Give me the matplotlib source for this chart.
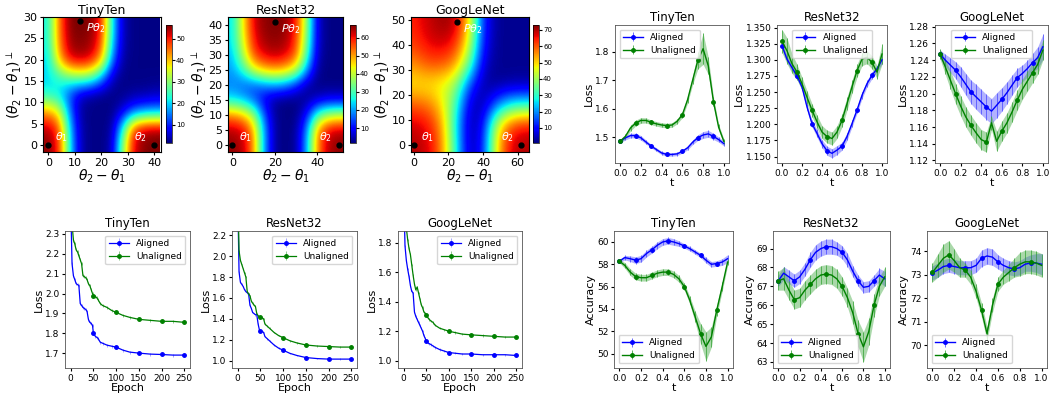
import matplotlib
matplotlib.use("Agg")
import matplotlib.pyplot as plt
import numpy as np

NETS = ["TinyTen", "ResNet32", "GoogLeNet"]

# ---- heatmaps: accuracy over the plane, coarse grid
# rows = (theta2-theta1)^perp, cols = theta2-theta1
TT_X = [0, 4, 8, 12, 16, 20, 24, 28, 32, 36, 40]
TT_Y = [0, 4, 8, 12, 16, 20, 24, 28]
TT_GRID = [
    [56, 50, 22, 4, 2, 2, 4, 30, 52, 56, 57],
    [54, 48, 20, 4, 2, 2, 3, 22, 48, 54, 55],
    [42, 36, 15, 3, 2, 2, 2, 6, 12, 15, 16],
    [22, 20, 12, 5, 3, 2, 2, 2, 3, 3, 4],
    [20, 24, 28, 30, 28, 18, 5, 2, 2, 2, 2],
    [20, 40, 52, 54, 52, 42, 15, 3, 2, 2, 2],
    [22, 44, 55, 56, 55, 48, 20, 4, 2, 2, 2],
    [22, 45, 56, 57, 56, 50, 22, 4, 2, 2, 2],
]
RN_X = [0, 5, 10, 15, 20, 25, 30, 35, 40, 45, 50]
RN_Y = [0, 5, 10, 15, 20, 25, 30, 35, 40]
RN_GRID = [
    [66, 64, 52, 20, 3, 2, 3, 20, 52, 64, 66],
    [64, 62, 50, 20, 3, 2, 3, 18, 50, 62, 64],
    [52, 48, 38, 15, 3, 2, 2, 10, 30, 38, 40],
    [25, 22, 16, 8, 3, 2, 2, 3, 6, 8, 8],
    [18, 16, 15, 18, 20, 18, 12, 4, 2, 2, 2],
    [20, 28, 42, 48, 50, 48, 40, 20, 3, 2, 2],
    [22, 38, 56, 62, 64, 62, 55, 30, 5, 2, 2],
    [24, 42, 60, 65, 66, 65, 58, 34, 6, 2, 2],
    [24, 44, 62, 66, 67, 66, 60, 36, 6, 2, 2],
]
GN_X = [0, 8, 16, 24, 32, 40, 48, 56, 64]
GN_Y = [0, 8, 16, 24, 32, 40, 48]
GN_GRID = [
    [70, 68, 58, 30, 3, 10, 50, 68, 70],
    [68, 66, 56, 28, 3, 8, 45, 62, 66],
    [60, 58, 50, 32, 6, 3, 18, 28, 30],
    [48, 48, 46, 40, 15, 3, 2, 3, 3],
    [55, 60, 60, 55, 35, 6, 2, 2, 2],
    [62, 66, 68, 64, 45, 10, 2, 2, 2],
    [64, 68, 71, 70, 50, 12, 2, 2, 2],
]
# theta1, theta2, P theta2 positions
TT_PTS = [(0, 0), (40, 0), (12, 29)]
RN_PTS = [(0, 0), (50, 0), (20, 41)]
GN_PTS = [(0, 0), (62, 0), (25, 49)]
PT_LABELS = [r"$\theta_1$", r"$\theta_2$", r"$P\theta_2$"]

# ---- training loss vs epoch
EPOCHS = [0, 3, 6, 9, 12, 15, 18, 21, 24, 27, 30, 33, 36, 39, 42, 45, 48, 50,
          54, 57, 60, 65, 70, 80, 90, 100, 115, 130, 150, 175, 200, 225, 250]
TT_TRAIN_AL = [2.45, 2.15, 2.09, 2.07, 2.05, 2.045, 2.04, 1.95, 1.94, 1.93, 1.925, 1.92, 1.91,
               1.87, 1.855, 1.85, 1.84, 1.80, 1.785, 1.78, 1.775, 1.755, 1.75, 1.74, 1.735,
               1.73, 1.715, 1.705, 1.70, 1.695, 1.693, 1.69, 1.69]
TT_TRAIN_UN = [2.50, 2.35, 2.27, 2.25, 2.22, 2.21, 2.19, 2.17, 2.15, 2.09, 2.085, 2.08, 2.07,
               2.05, 2.04, 2.02, 2.00, 1.99, 1.985, 1.98, 1.97, 1.95, 1.94, 1.93, 1.915,
               1.905, 1.89, 1.88, 1.87, 1.865, 1.86, 1.86, 1.855]
RN_TRAIN_AL = [2.6, 1.85, 1.75, 1.73, 1.71, 1.68, 1.66, 1.65, 1.64, 1.53, 1.50, 1.46, 1.45,
               1.44, 1.44, 1.35, 1.29, 1.28, 1.28, 1.27, 1.23, 1.21, 1.19, 1.15, 1.12,
               1.10, 1.07, 1.05, 1.03, 1.02, 1.015, 1.015, 1.015]
RN_TRAIN_UN = [2.7, 2.05, 1.96, 1.92, 1.88, 1.84, 1.80, 1.66, 1.64, 1.62, 1.57, 1.55, 1.53,
               1.52, 1.45, 1.43, 1.42, 1.42, 1.41, 1.40, 1.35, 1.33, 1.31, 1.27, 1.24,
               1.22, 1.19, 1.17, 1.15, 1.14, 1.135, 1.13, 1.13]
GN_TRAIN_AL = [2.2, 1.78, 1.68, 1.62, 1.57, 1.51, 1.47, 1.46, 1.33, 1.30, 1.28, 1.26, 1.24,
               1.22, 1.20, 1.17, 1.15, 1.13, 1.12, 1.115, 1.11, 1.10, 1.09, 1.075, 1.065,
               1.055, 1.05, 1.045, 1.045, 1.04, 1.04, 1.04, 1.035]
GN_TRAIN_UN = [2.4, 2.0, 1.90, 1.82, 1.76, 1.72, 1.65, 1.58, 1.52, 1.48, 1.50, 1.46, 1.42,
               1.38, 1.36, 1.33, 1.32, 1.31, 1.29, 1.28, 1.27, 1.26, 1.24, 1.22, 1.21,
               1.20, 1.19, 1.18, 1.175, 1.17, 1.165, 1.16, 1.16]
TRAIN_ERR = 0.008

# ---- loss / accuracy along the path t
T = [0.0, 0.05, 0.1, 0.15, 0.2, 0.25, 0.3, 0.35, 0.4, 0.45, 0.5,
     0.55, 0.6, 0.65, 0.7, 0.75, 0.8, 0.85, 0.9, 0.95, 1.0]

TT_LOSS_AL = [1.486, 1.498, 1.506, 1.506, 1.498, 1.483, 1.469, 1.457, 1.445, 1.440, 1.440,
              1.442, 1.451, 1.463, 1.483, 1.499, 1.508, 1.512, 1.503, 1.492, 1.478]
TT_LOSS_AL_ERR = [0.006, 0.007, 0.008, 0.008, 0.008, 0.007, 0.006, 0.006, 0.006, 0.006, 0.006,
                  0.006, 0.006, 0.007, 0.008, 0.010, 0.012, 0.012, 0.011, 0.009, 0.008]
TT_LOSS_UN = [1.486, 1.503, 1.533, 1.550, 1.559, 1.559, 1.552, 1.547, 1.543, 1.541, 1.543,
              1.556, 1.579, 1.631, 1.701, 1.770, 1.810, 1.750, 1.625, 1.535, 1.486]
TT_LOSS_UN_ERR = [0.006, 0.008, 0.010, 0.010, 0.010, 0.009, 0.008, 0.008, 0.008, 0.008, 0.008,
                  0.009, 0.010, 0.012, 0.015, 0.030, 0.055, 0.030, 0.015, 0.010, 0.008]

RN_LOSS_AL = [1.322, 1.301, 1.288, 1.275, 1.258, 1.227, 1.201, 1.186, 1.170, 1.159, 1.155,
              1.160, 1.166, 1.181, 1.201, 1.222, 1.245, 1.263, 1.276, 1.286, 1.300]
RN_LOSS_AL_ERR = [0.005, 0.005, 0.005, 0.005, 0.005, 0.005, 0.005, 0.006, 0.006, 0.007, 0.007,
                  0.007, 0.006, 0.006, 0.005, 0.005, 0.005, 0.005, 0.005, 0.005, 0.006]
RN_LOSS_UN = [1.329, 1.314, 1.294, 1.281, 1.263, 1.242, 1.222, 1.204, 1.188, 1.181, 1.178,
              1.188, 1.206, 1.232, 1.258, 1.283, 1.301, 1.304, 1.296, 1.281, 1.309]
RN_LOSS_UN_ERR = [0.018, 0.020, 0.015, 0.012, 0.010, 0.010, 0.010, 0.010, 0.010, 0.010, 0.010,
                  0.010, 0.010, 0.010, 0.010, 0.010, 0.010, 0.010, 0.010, 0.010, 0.016]

GN_LOSS_AL = [1.247, 1.240, 1.234, 1.228, 1.220, 1.211, 1.202, 1.196, 1.190, 1.184, 1.179,
              1.186, 1.193, 1.201, 1.210, 1.219, 1.224, 1.230, 1.237, 1.243, 1.256]
GN_LOSS_AL_ERR = [0.005, 0.007, 0.009, 0.010, 0.012, 0.013, 0.014, 0.015, 0.015, 0.015, 0.015,
                  0.015, 0.014, 0.013, 0.012, 0.011, 0.010, 0.010, 0.011, 0.013, 0.015]
GN_LOSS_UN = [1.247, 1.232, 1.216, 1.200, 1.185, 1.172, 1.162, 1.153, 1.145, 1.142, 1.165,
              1.143, 1.155, 1.165, 1.178, 1.192, 1.205, 1.215, 1.225, 1.235, 1.252]
GN_LOSS_UN_ERR = [0.006, 0.009, 0.011, 0.012, 0.012, 0.012, 0.012, 0.012, 0.012, 0.012, 0.008,
                  0.012, 0.012, 0.012, 0.012, 0.012, 0.012, 0.012, 0.012, 0.012, 0.012]

TT_ACC_AL = [58.28, 58.6, 58.5, 58.37, 58.5, 58.96, 59.3, 59.7, 60.0, 60.1, 60.0,
             59.85, 59.64, 59.4, 59.1, 58.8, 58.37, 58.0, 58.07, 58.2, 58.5]
TT_ACC_AL_ERR = [0.15, 0.2, 0.25, 0.3, 0.3, 0.3, 0.3, 0.3, 0.3, 0.3, 0.3,
                 0.25, 0.2, 0.2, 0.2, 0.2, 0.25, 0.25, 0.25, 0.3, 0.35]
TT_ACC_UN = [58.28, 57.9, 57.3, 56.9, 56.8, 56.8, 57.0, 57.2, 57.3, 57.3, 57.1,
             56.7, 56.0, 54.8, 53.3, 51.8, 50.65, 51.5, 53.9, 56.0, 58.2]
TT_ACC_UN_ERR = [0.15, 0.25, 0.3, 0.3, 0.3, 0.3, 0.3, 0.3, 0.3, 0.3, 0.3,
                 0.3, 0.3, 0.35, 0.5, 0.9, 1.3, 0.9, 0.5, 0.4, 0.3]

RN_ACC_AL = [67.3, 67.7, 67.5, 67.3, 67.5, 67.9, 68.4, 68.8, 69.0, 69.1, 69.1,
             69.0, 68.8, 68.4, 67.8, 67.3, 66.95, 67.0, 67.3, 67.6, 67.4]
RN_ACC_AL_ERR = [0.3, 0.35, 0.35, 0.35, 0.35, 0.35, 0.4, 0.4, 0.4, 0.4, 0.4,
                 0.35, 0.35, 0.35, 0.3, 0.3, 0.3, 0.3, 0.3, 0.35, 0.4]
RN_ACC_UN = [67.3, 67.4, 66.8, 66.3, 66.4, 66.8, 67.1, 67.4, 67.6, 67.65, 67.6,
             67.4, 67.0, 66.4, 65.6, 64.5, 63.8, 64.6, 66.0, 67.0, 67.5]
RN_ACC_UN_ERR = [0.5, 0.6, 0.5, 0.5, 0.5, 0.5, 0.5, 0.5, 0.5, 0.5, 0.5,
                 0.5, 0.5, 0.5, 0.6, 0.7, 0.8, 0.7, 0.6, 0.5, 0.5]

GN_ACC_AL = [73.08, 73.2, 73.35, 73.4, 73.35, 73.3, 73.3, 73.3, 73.4, 73.7, 73.8,
             73.75, 73.55, 73.4, 73.3, 73.25, 73.3, 73.45, 73.5, 73.5, 73.45]
GN_ACC_AL_ERR = [0.3, 0.3, 0.3, 0.3, 0.3, 0.3, 0.3, 0.3, 0.3, 0.35, 0.35,
                 0.35, 0.3, 0.3, 0.3, 0.3, 0.3, 0.3, 0.35, 0.4, 0.45]
GN_ACC_UN = [73.1, 73.4, 73.7, 73.85, 73.6, 73.3, 73.2, 72.9, 72.3, 71.5, 70.5,
             71.7, 72.6, 72.9, 73.1, 73.3, 73.45, 73.55, 73.55, 73.5, 73.4]
GN_ACC_UN_ERR = [0.4, 0.5, 0.6, 0.6, 0.5, 0.4, 0.3, 0.3, 0.3, 0.3, 0.3,
                 0.3, 0.3, 0.3, 0.35, 0.4, 0.5, 0.5, 0.5, 0.5, 0.5]

BLUE = "b"
GREEN = "g"


def px(left, top, right, bottom, W=1050, H=396):
    return [left / W, 1 - bottom / H, (right - left) / W, (bottom - top) / H]


def drawHeatmap(fig, rect, crect, xs, ys, grid, pts, title, xlim, ylim, vmin, vmax, cticks, xticks, yticks):
    ax = fig.add_axes(rect)
    dx = xs[1] - xs[0]
    dy = ys[1] - ys[0]
    ext = [xs[0] - dx / 2, xs[-1] + dx / 2, ys[0] - dy / 2, ys[-1] + dy / 2]
    im = ax.imshow(np.array(grid), origin="lower", extent=ext, cmap="jet",
                   interpolation="bicubic", aspect="auto", vmin=vmin, vmax=vmax)
    ax.set_xlim(xlim)
    ax.set_ylim(ylim)
    for px_, py_ in pts:
        ax.plot(px_, py_, "o", color="black", markersize=3.5)
    xspan = xlim[1] - xlim[0]
    yspan = ylim[1] - ylim[0]
    ax.text(pts[0][0] + 0.06 * xspan, pts[0][1] + 0.01 * yspan, PT_LABELS[0], color="white", fontsize=8, va="bottom")
    ax.text(pts[1][0] - 0.06 * xspan, pts[1][1] + 0.01 * yspan, PT_LABELS[1], color="white", fontsize=8,
            va="bottom", ha="right")
    ax.text(pts[2][0] + 0.05 * xspan, pts[2][1] - 0.05 * yspan, PT_LABELS[2], color="white", fontsize=8, va="center")
    ax.set_xticks(xticks)
    ax.set_yticks(yticks)
    ax.tick_params(labelsize=8, length=2.5, pad=1.5)
    ax.set_title(title, fontsize=9, pad=2)
    ax.set_xlabel(r"$\theta_2-\theta_1$", fontsize=10, labelpad=0)
    ax.set_ylabel(r"$(\theta_2-\theta_1)^\perp$", fontsize=10, labelpad=0)
    cax = fig.add_axes(crect)
    cb = fig.colorbar(im, cax=cax, ticks=cticks)
    cb.ax.tick_params(labelsize=5, length=2, pad=1)
    cb.outline.set_linewidth(0.5)


def styleSmall(ax, title):
    ax.set_title(title, fontsize=8.5, pad=3)
    ax.tick_params(labelsize=6.5, length=2.5, pad=1.5)
    for s in ax.spines.values():
        s.set_linewidth(0.6)
        s.set_color("#555555")


def drawTrain(fig, rect, al, un, title, ylim, yticks, yfmt):
    ax = fig.add_axes(rect)
    mk = [EPOCHS.index(e) for e in [0, 50, 100, 150, 200, 250]]
    ax.errorbar(EPOCHS, al, yerr=TRAIN_ERR, color=BLUE, lw=0.9, marker="o", markersize=2.5,
                markevery=mk, elinewidth=0.5, ecolor="#8080ff", label="Aligned")
    ax.errorbar(EPOCHS, un, yerr=TRAIN_ERR, color=GREEN, lw=0.9, marker="o", markersize=2.5,
                markevery=mk, elinewidth=0.5, ecolor="#60b060", label="Unaligned")
    ax.set_ylim(ylim)
    ax.set_yticks(yticks)
    ax.set_yticklabels([yfmt.format(v) for v in yticks])
    ax.set_xticks([0, 50, 100, 150, 200, 250])
    ax.set_xlabel("Epoch", fontsize=8, labelpad=0)
    ax.set_ylabel("Loss", fontsize=8, labelpad=1)
    styleSmall(ax, title)
    ax.legend(loc="upper right", fontsize=6.5, handlelength=2.2, borderpad=0.4, labelspacing=0.4)


def drawPath(fig, rect, al, al_err, un, un_err, title, ylabel, ylim, yticks, yfmt, legloc):
    ax = fig.add_axes(rect)
    for y, e, c, ec, lab in [(al, al_err, BLUE, "#5555ff", "Aligned"), (un, un_err, GREEN, "#44aa44", "Unaligned")]:
        y = np.array(y)
        e = np.array(e)
        ax.fill_between(T, y - e, y + e, color=ec, alpha=0.45, lw=0)
        ax.errorbar(T, y, yerr=e, color=c, lw=1.0, marker="o", markersize=2.5, markevery=3,
                    elinewidth=0.6, ecolor=ec, label=lab)
    ax.set_ylim(ylim)
    ax.set_yticks(yticks)
    ax.set_yticklabels([yfmt.format(v) for v in yticks])
    ax.set_xticks([0, 0.2, 0.4, 0.6, 0.8, 1.0])
    ax.set_xlabel("t", fontsize=8, labelpad=0)
    ax.set_ylabel(ylabel, fontsize=8, labelpad=1)
    styleSmall(ax, title)
    ax.legend(loc=legloc, fontsize=6.5, handlelength=2.2, borderpad=0.4, labelspacing=0.4)


fig = plt.figure(figsize=(10.5, 3.96), dpi=100)

# heatmaps
drawHeatmap(fig, px(43, 17, 161, 152), px(166, 25, 172, 143), TT_X, TT_Y, TT_GRID, TT_PTS, NETS[0],
            (-2, 42.5), (-1.6, 30), 1.6, 56.5, [10, 20, 30, 40, 50], [0, 10, 20, 30, 40], [0, 5, 10, 15, 20, 25, 30])
drawHeatmap(fig, px(228, 17, 343, 152), px(350, 25, 356, 143), RN_X, RN_Y, RN_GRID, RN_PTS, NETS[1],
            (-2, 52), (-2.3, 42.7), 1.7, 67, [10, 20, 30, 40, 50, 60], [0, 20, 40], [0, 5, 10, 15, 20, 25, 30, 35, 40])
drawHeatmap(fig, px(411, 17, 529, 152), px(533, 25, 539, 143), GN_X, GN_Y, GN_GRID, GN_PTS, NETS[2],
            (-1.5, 66.5), (-2.8, 51), 0.8, 73, [10, 20, 30, 40, 50, 60, 70], [0, 20, 40, 60], [0, 10, 20, 30, 40, 50])

# training curves
drawTrain(fig, px(65, 231, 190, 368), TT_TRAIN_AL, TT_TRAIN_UN, NETS[0], (1.625, 2.315),
          [1.7, 1.8, 1.9, 2.0, 2.1, 2.2, 2.3], "{:.1f}")
drawTrain(fig, px(232, 231, 357, 368), RN_TRAIN_AL, RN_TRAIN_UN, NETS[1], (0.93, 2.24),
          [1.0, 1.2, 1.4, 1.6, 1.8, 2.0, 2.2], "{:.1f}")
drawTrain(fig, px(398, 231, 522, 368), GN_TRAIN_AL, GN_TRAIN_UN, NETS[2], (0.95, 1.88),
          [1.0, 1.2, 1.4, 1.6, 1.8], "{:.1f}")

# path loss
drawPath(fig, px(615, 25, 729, 163), TT_LOSS_AL, TT_LOSS_AL_ERR, TT_LOSS_UN, TT_LOSS_UN_ERR, NETS[0], "Loss",
         (1.41, 1.893), [1.5, 1.6, 1.7, 1.8], "{:.1f}", "upper left")
drawPath(fig, px(777, 25, 887, 163), RN_LOSS_AL, RN_LOSS_AL_ERR, RN_LOSS_UN, RN_LOSS_UN_ERR, NETS[1], "Loss",
         (1.14, 1.354), [1.15, 1.175, 1.2, 1.225, 1.25, 1.275, 1.3, 1.325, 1.35], "{:.3f}", "upper center")
drawPath(fig, px(935, 25, 1048, 163), GN_LOSS_AL, GN_LOSS_AL_ERR, GN_LOSS_UN, GN_LOSS_UN_ERR, NETS[2], "Loss",
         (1.117, 1.282), [1.12, 1.14, 1.16, 1.18, 1.2, 1.22, 1.24, 1.26, 1.28], "{:.2f}", "upper center")

# path accuracy
drawPath(fig, px(614, 231, 733, 368), TT_ACC_AL, TT_ACC_AL_ERR, TT_ACC_UN, TT_ACC_UN_ERR, NETS[0], "Accuracy",
         (48.72, 60.98), [50, 52, 54, 56, 58, 60], "{:.0f}", "lower left")
drawPath(fig, px(773, 231, 890, 368), RN_ACC_AL, RN_ACC_AL_ERR, RN_ACC_UN, RN_ACC_UN_ERR, NETS[1], "Accuracy",
         (62.68, 69.93), [63, 64, 65, 66, 67, 68, 69], "{:.0f}", "lower left")
drawPath(fig, px(927, 231, 1047, 368), GN_ACC_AL, GN_ACC_AL_ERR, GN_ACC_UN, GN_ACC_UN_ERR, NETS[2], "Accuracy",
         (69.04, 74.86), [70, 71, 72, 73, 74], "{:.0f}", "lower left")

fig.savefig("out.png", dpi=100)
